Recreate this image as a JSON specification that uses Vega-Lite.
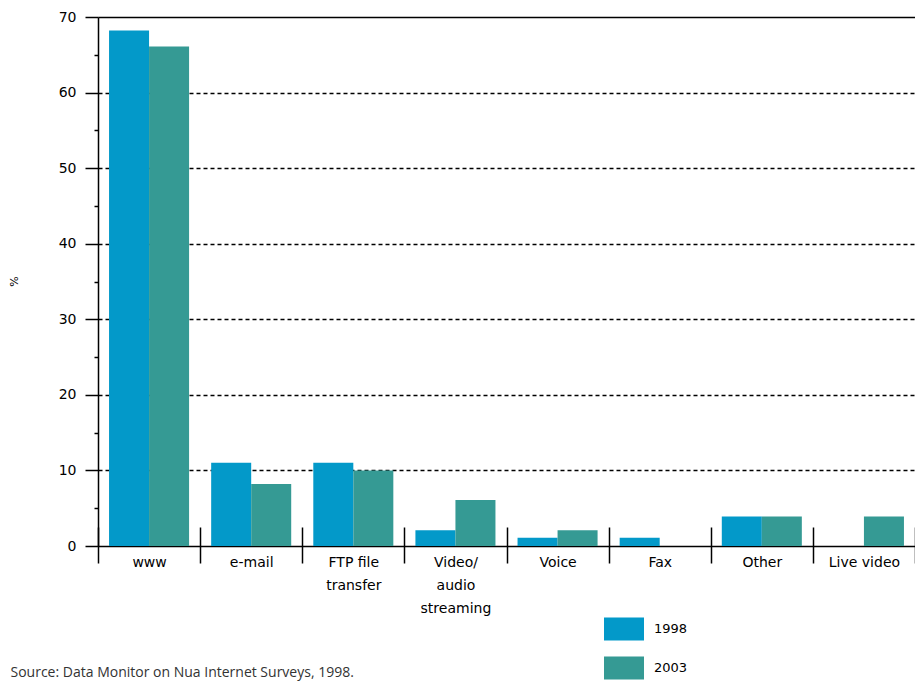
{
  "$schema": "https://vega.github.io/schema/vega-lite/v6.json",
  "autosize": {"type": "none"},
  "padding": {"left": 98, "top": 17, "right": 0, "bottom": 135},
  "width": 817,
  "height": 529,
  "background": "white",
  "config": {"view": {"stroke": null}},
  "data": {
    "values": [
      {"category": "www", "year": "1998", "percent": 68.2},
      {"category": "www", "year": "2003", "percent": 66.1},
      {"category": "e-mail", "year": "1998", "percent": 11.0},
      {"category": "e-mail", "year": "2003", "percent": 8.2},
      {"category": "FTP file transfer", "year": "1998", "percent": 11.0},
      {"category": "FTP file transfer", "year": "2003", "percent": 10.0},
      {"category": "Video/ audio streaming", "year": "1998", "percent": 2.1},
      {"category": "Video/ audio streaming", "year": "2003", "percent": 6.1},
      {"category": "Voice", "year": "1998", "percent": 1.1},
      {"category": "Voice", "year": "2003", "percent": 2.1},
      {"category": "Fax", "year": "1998", "percent": 1.1},
      {"category": "Other", "year": "1998", "percent": 3.9},
      {"category": "Other", "year": "2003", "percent": 3.9},
      {"category": "Live video", "year": "2003", "percent": 3.9}
    ]
  },
  "mark": {"type": "bar"},
  "encoding": {
    "x": {
      "field": "category",
      "type": "nominal",
      "sort": ["www", "e-mail", "FTP file transfer", "Video/ audio streaming", "Voice", "Fax", "Other", "Live video"],
      "scale": {"paddingInner": 0, "paddingOuter": 0},
      "axis": {
        "title": "Source: Data Monitor on Nua Internet Surveys, 1998.",
        "titleFont": "Open Sans",
        "titleFontSize": 14,
        "titleFontWeight": "normal",
        "titleColor": "#333333",
        "titleX": -88,
        "titleY": 149,
        "titleAlign": "left",
        "titleBaseline": "alphabetic",
        "domain": false,
        "offset": -19,
        "tickSize": 36,
        "tickWidth": 1.5,
        "tickColor": "#000000",
        "tickBand": "extent",
        "labelAngle": 0,
        "labelFont": "DejaVu Sans",
        "labelFontSize": 14,
        "labelColor": "#000000",
        "labelPadding": -8,
        "labelLineHeight": 23,
        "labelExpr": "datum.value == 'FTP file transfer' ? ['FTP file', 'transfer'] : datum.value == 'Video/ audio streaming' ? ['Video/', 'audio', 'streaming'] : datum.value"
      }
    },
    "xOffset": {"field": "year", "type": "nominal", "scale": {"domain": ["1998", "2003"], "paddingInner": 0, "paddingOuter": 0.276}},
    "y": {
      "field": "percent",
      "type": "quantitative",
      "scale": {"domain": [0, 70], "nice": false},
      "axis": {
        "title": "%",
        "titleFont": "DejaVu Sans",
        "titleFontSize": 11,
        "titleFontWeight": "normal",
        "titleColor": "#000000",
        "titleX": -79,
        "titleY": 264,
        "values": [0, 5, 10, 15, 20, 25, 30, 35, 40, 45, 50, 55, 60, 65, 70],
        "labelExpr": "datum.value % 10 == 0 ? datum.label : ''",
        "labelFont": "DejaVu Sans",
        "labelFontSize": 14,
        "labelColor": "#000000",
        "labelPadding": 9,
        "domainColor": "#000000",
        "domainWidth": 1.5,
        "tickColor": "#000000",
        "tickWidth": 1.5,
        "tickSize": {"condition": {"test": "datum.value % 10 == 0", "value": 13}, "value": 4},
        "grid": true,
        "gridColor": "#000000",
        "gridWidth": 1.5,
        "gridOpacity": {"condition": {"test": "datum.value % 10 == 0", "value": 1}, "value": 0},
        "gridDash": {"condition": {"test": "datum.value == 0 || datum.value == 70", "value": []}, "value": [4, 3]}
      }
    },
    "color": {
      "field": "year",
      "type": "nominal",
      "scale": {"domain": ["1998", "2003"], "range": ["#0399C9", "#359A94"]},
      "legend": {
        "title": null,
        "orient": "none",
        "legendX": 506,
        "legendY": 592,
        "padding": 0,
        "symbolType": "M-1,-0.575H1V0.575H-1Z",
        "symbolSize": 1600,
        "symbolStrokeWidth": 0,
        "symbolOpacity": 1,
        "labelFont": "DejaVu Sans",
        "labelFontSize": 13,
        "labelColor": "#000000",
        "labelOffset": 10,
        "rowPadding": 7
      }
    }
  }
}
